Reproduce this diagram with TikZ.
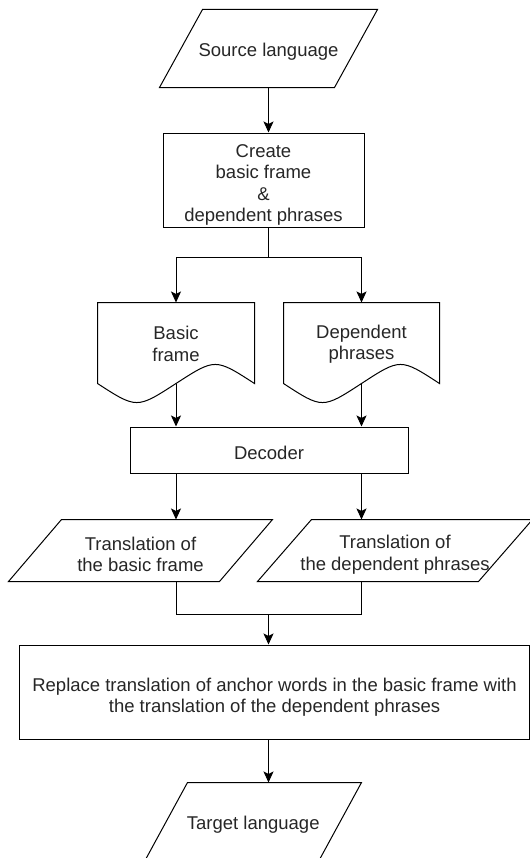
\documentclass[tikz,border=0pt]{standalone}
\usepackage{fontspec}
\setmainfont{Liberation Sans}
\usetikzlibrary{arrows.meta,calc}
\newcommand\drawpara[2]{\draw ($(#1.north west)+(#2,0)$) -- ($(#1.north east)+(#2,0)$) -- ($(#1.south east)+(-#2,0)$) -- ($(#1.south west)+(-#2,0)$) -- cycle;}
\newcommand\drawdoc[1]{\draw (#1.south west) -- (#1.north west) -- (#1.north east) -- (#1.south east) .. controls ($(#1.south east)!0.5!(#1.south)+(0,-25.4)$) .. (#1.south) .. controls ($(#1.south west)!0.5!(#1.south)+(0,25.4)$) .. (#1.south west) -- cycle;}
\begin{document}
\begin{tikzpicture}[x=1bp,y=-1bp,line width=1bp,
  every node/.style={font=\fontsize{18.5bp}{21.5bp}\selectfont,align=center,inner sep=0pt,text=black!85},
  box/.style={draw,rectangle},
  shapenode/.style={rectangle},
  lbl/.style={yshift=#1},
  arr/.style={-{Stealth[length=11bp,width=10bp,inset=2.5bp]}}]
\useasboundingbox (0,0) rectangle (530,858);
\node[shapenode,minimum width=174bp,minimum height=77bp,label={[lbl=-3bp]center:{Source language}}] (src) at (268.5,48.5) {};
\drawpara{src}{21.5}
\node[box,minimum width=201bp,minimum height=94bp,label={[lbl=-5bp]center:{Create\\basic frame\\\&\\dependent phrases}}] (create) at (263.5,180) {};
\node[shapenode,minimum width=156bp,minimum height=80bp,label={[lbl=-1bp]center:{Basic\\frame}}] (bf) at (176,343) {};
\drawdoc{bf}
\node[shapenode,minimum width=155bp,minimum height=80bp,label={[lbl=-1bp]center:{Dependent\\phrases}}] (dp) at (361.5,343) {};
\drawdoc{dp}
\node[box,minimum width=278bp,minimum height=46bp,label={[lbl=-3bp]center:{Decoder}}] (dec) at (269,450) {};
\node[shapenode,minimum width=210bp,minimum height=61bp,label={[lbl=-4bp]center:{Translation of\\the basic frame}}] (tl) at (140.5,550.5) {};
\drawpara{tl}{26.5}
\node[shapenode,minimum width=220bp,minimum height=61bp,label={[lbl=-4bp]center:{Translation of\\the dependent phrases}}] (tr) at (395,550.5) {};
\drawpara{tr}{27}
\node[box,minimum width=509bp,minimum height=94bp,label={[lbl=-5bp]center:{Replace translation of anchor words in the basic frame with\\the translation of the dependent phrases}}] (rep) at (274.5,692) {};
\node[shapenode,minimum width=173bp,minimum height=77bp,label={[lbl=-3bp]center:{Target language}}] (tgt) at (253.25,821.5) {};
\drawpara{tgt}{21.25}
% connectors
\draw[arr] (src.south) -- (src.south |- create.north);
\coordinate (split) at ($(src.south |- create.south)+(0,30)$);
\draw (src.south |- create.south) -- (split);
\draw[arr] (split) -| (bf.north);
\draw[arr] (split) -| (dp.north);
\draw[arr] (bf.south) -- (bf.south |- dec.north);
\draw[arr] (dp.south) -- (dp.south |- dec.north);
\draw[arr] (dec.south -| bf.south) -- (tl.north -| bf.south);
\draw[arr] (dec.south -| dp.south) -- (tr.north -| dp.south);
\coordinate (jy) at (0,614);
\draw (tl.south -| bf.south) -- (bf.south |- jy) -- (dp.south |- jy) -- (tr.south -| dp.south);
\draw[arr] (src.south |- jy) -- (src.south |- rep.north);
\draw[arr] (src.south |- rep.south) -- (src.south |- tgt.north);
\end{tikzpicture}
\end{document}
